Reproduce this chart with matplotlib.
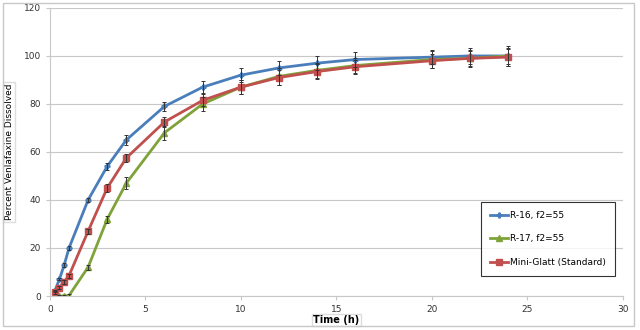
import matplotlib.pyplot as plt
from matplotlib.patches import Rectangle

time_h = [0.25, 0.5, 0.75, 1, 2, 3, 4, 6, 8, 10, 12, 14, 16, 20, 22, 24]

r16 = [2, 7, 13, 20, 40, 54, 65, 79, 87, 92, 95, 97, 98.5, 99.5, 100, 100]
r16_err = [0.5, 0.5, 0.8, 0.8, 1, 1.5, 2, 2, 2.5, 2.8, 3, 3, 3, 3, 3.5, 3.5]

r17 = [None, 0, 0, 0.2, 12, 32, 47, 68, 80, 87, 91.5, 94, 96, 98.5, 99, 100]
r17_err = [0, 0.5, 0.5, 0.5, 1, 1.5, 2.5, 3, 3, 3, 3.5, 3, 3, 3.5, 3.5, 4]

mini_glatt = [1.5, 3.5, 6, 8.5, 27, 45, 57.5, 72.5, 81.5, 87, 91, 93.5, 95.5, 98, 99, 99.5]
mini_err = [0.5, 0.5, 0.8, 0.8, 1, 1.5, 1.5, 2, 2.5, 3, 3, 3, 3, 3, 3, 3.5]

series = [
    ("R-16, f2=55", time_h, r16, r16_err, "#4a7ebb", "P", 3.5),
    ("R-17, f2=55", time_h[1:], r17[1:], r17_err[1:], "#7fa33a", "^", 4),
    ("Mini-Glatt (Standard)", time_h, mini_glatt, mini_err, "#c0504d", "s", 5),
]

fig = plt.figure(figsize=(6.4, 3.3), dpi=100)
fig.patches.append(Rectangle((0.004, 0.012), 0.987, 0.978, transform=fig.transFigure,
                             fill=False, edgecolor="#c8c8c8", linewidth=1))
ax = fig.add_axes([0.078, 0.103, 0.895, 0.873])

for label, x, y, err, color, marker, ms in series:
    ax.errorbar(x, y, yerr=err, fmt="none", ecolor="#333333", elinewidth=0.7,
                capsize=1.5, capthick=0.7, zorder=3)
    ax.plot(x, y, color=color, marker=marker, markersize=ms, linewidth=2,
            label=label, zorder=2)

ax.set_xlim(0, 30)
ax.set_ylim(0, 120)
ax.set_xticks(range(0, 31, 5))
ax.set_yticks(range(0, 121, 20))
ax.grid(axis="y", color="#c8c8c8", linewidth=0.8)
ax.set_axisbelow(True)
for side in ["top", "right"]:
    ax.spines[side].set_visible(False)
for side in ["left", "bottom"]:
    ax.spines[side].set_color("#c8c8c8")
ax.tick_params(labelsize=6.5, colors="#333333", length=3, color="#c8c8c8")

box = dict(facecolor="white", edgecolor="#dddddd", boxstyle="square,pad=0.15")
ax.set_ylabel("Percent Venlafaxine Dissolved", fontsize=6.5, bbox=box)
ax.yaxis.set_label_coords(-0.063, 0.5)
ax.set_xlabel("Time (h)", fontsize=7, fontweight="bold", bbox=box)
ax.xaxis.set_label_coords(0.5, -0.066)

leg = ax.legend(loc="lower right", bbox_to_anchor=(0.986, 0.07), fontsize=6.5,
                frameon=True, fancybox=False, labelspacing=1.6, borderpad=1.0,
                handlelength=2, handletextpad=0.2, borderaxespad=0)
leg.get_frame().set_edgecolor("black")
leg.get_frame().set_linewidth(0.8)

fig.savefig("out.png", dpi=100)
